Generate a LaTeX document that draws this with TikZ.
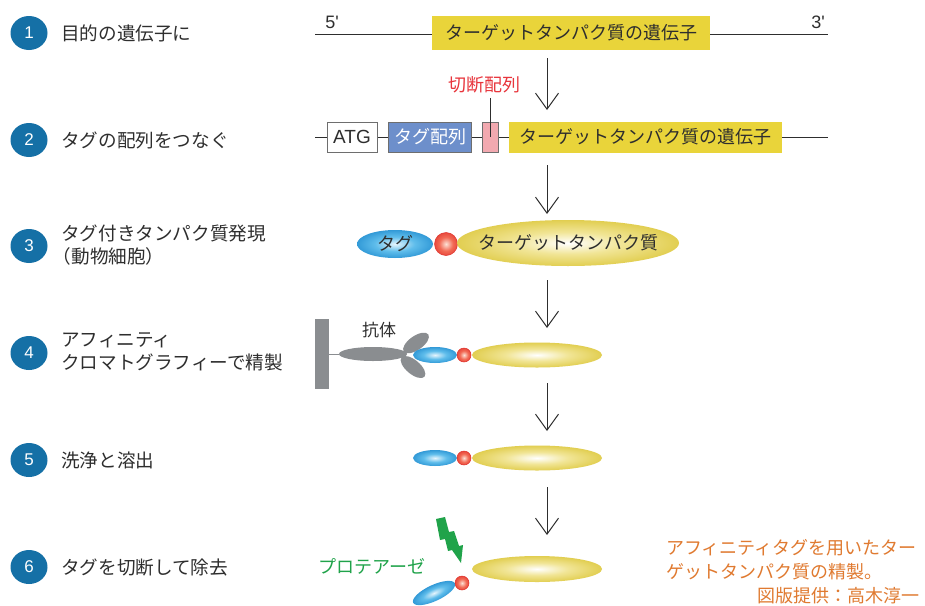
\documentclass[tikz,border=0pt]{standalone}
\usepackage{fontspec}
\setmainfont{Noto Sans CJK JP}
\newfontfamily\latinfont{Liberation Sans}
\usetikzlibrary{arrows.meta,shapes.geometric}

\definecolor{numblue}{HTML}{1570A6}
\definecolor{txt}{HTML}{2E2E2E}
\definecolor{geneyellow}{HTML}{E9D43A}
\definecolor{tagbox}{HTML}{6D8FCB}
\definecolor{cutpink}{HTML}{F2A9B0}
\definecolor{cutred}{HTML}{E8353C}
\definecolor{protgreen}{HTML}{20A34A}
\definecolor{capor}{HTML}{E07A30}
\definecolor{abgrey}{HTML}{8A8D90}
\definecolor{boxedge}{HTML}{6E6E6E}
\definecolor{ylmid}{HTML}{F1E596}
\definecolor{yledge}{HTML}{D9C22C}
\definecolor{blcen}{HTML}{E6F5FD}
\definecolor{blmid}{HTML}{5FBDEB}
\definecolor{bledge}{HTML}{1583CA}
\definecolor{rdcen}{HTML}{FCE2D6}
\definecolor{rdmid}{HTML}{F26A55}
\definecolor{rdedge}{HTML}{E0302A}

% radial glows; the outer ring lies on the outline of the filled shape
\pgfdeclareradialshading{yellowglow}{\pgfpoint{0bp}{0bp}}{color(0bp)=(white); color(12bp)=(ylmid); color(32bp)=(yledge); color(50bp)=(yledge)}
\pgfdeclareradialshading{blueglow}{\pgfpoint{0bp}{0bp}}{color(0bp)=(blcen); color(13bp)=(blmid); color(33bp)=(bledge); color(50bp)=(bledge)}
\pgfdeclareradialshading{redglow}{\pgfpoint{0bp}{0bp}}{color(0bp)=(rdcen); color(15bp)=(rdmid); color(33bp)=(rdedge); color(50bp)=(rdedge)}

\tikzset{
  numc/.style={ellipse, fill=numblue, minimum width=37, minimum height=34, inner sep=0,
    text=white, font=\latinfont\fontsize{17}{17}\selectfont},
  lbl/.style={anchor=west, text=txt, align=left, inner sep=0, font=\fontsize{18.6}{22.5}\selectfont},
  dna/.style={draw=txt, line width=0.9},
  seqbox/.style={draw=boxedge, line width=0.8, inner sep=0, text=txt, font=\fontsize{18}{18}\selectfont},
  genebox/.style={fill=geneyellow, inner sep=0, text=txt, font=\fontsize{18}{18}\selectfont},
  flow/.style={draw=txt, line width=1, -{Straight Barb[length=16pt,width=23pt,line width=1pt]}},
  yelp/.style={ellipse, shade, shading=yellowglow, inner sep=0},
  bluep/.style={ellipse, shade, shading=blueglow, inner sep=0},
  redb/.style={circle, shade, shading=redglow, draw=rdedge, line width=0.5, inner sep=0},
  ptext/.style={text=txt, inner sep=0, font=\fontsize{18}{18}\selectfont},
  grey/.style={fill=abgrey},
  caption/.style={text=capor, inner sep=0, font=\fontsize{18}{18}\selectfont},
}

\begin{document}
\begin{tikzpicture}[x=1pt,y=-1pt]
\useasboundingbox (0,0) rectangle (925,605);
\fill[white] (0,0) rectangle (925,605);

% numbered steps on the left
\node[numc] (n1) at (29,33) {1};
\node[numc] (n2) at (29,140) {2};
\node[numc] (n3) at (29,246) {3};
\node[numc] (n4) at (29,353) {4};
\node[numc] (n5) at (29,460) {5};
\node[numc] (n6) at (29,567) {6};

\node[lbl] (l1) at (61,33) {目的の遺伝子に};
\node[lbl] (l2) at (61,140) {タグの配列をつなぐ};
\node[lbl] (l3) at (61,245) {タグ付きタンパク質発現\\\kern-0.45em（動物細胞）};
\node[lbl] (l4) at (61,352) {アフィニティ\\クロマトグラフィーで精製};
\node[lbl] (l5) at (61,460) {洗浄と溶出};
\node[lbl] (l6) at (61,567) {タグを切断して除去};

% step 1: the target gene
\coordinate (g1l) at (315,34);
\coordinate (g1r) at (828,34);
\draw[dna] (g1l) -- (g1r);
\node[genebox, minimum width=278, minimum height=34] (gene1) at (571,33) {ターゲットタンパク質の遺伝子};
\node[text=txt, inner sep=0, font=\latinfont\fontsize{18}{18}\selectfont] (p5) at (332,22) {5'};
\node[text=txt, inner sep=0, font=\latinfont\fontsize{18}{18}\selectfont] (p3) at (818,22) {3'};

% step 2: construct with tag and cleavage site
\coordinate (g2l) at (315,137);
\coordinate (g2r) at (828,137);
\draw[dna] (g2l) -- (g2r);
\node[seqbox, fill=white, minimum width=50, minimum height=30, font=\latinfont\fontsize{19}{19}\selectfont] (atg) at (352,137) {ATG};
\node[seqbox, fill=tagbox, text=white, minimum width=83, minimum height=30] (tagseq) at (430,137) {タグ配列};
\node[seqbox, fill=cutpink, minimum width=16, minimum height=30] (cut) at (490,137) {};
\node[genebox, minimum width=273, minimum height=31] (gene2) at (645,137) {ターゲットタンパク質の遺伝子};
\node[text=cutred, inner sep=0, font=\fontsize{18}{18}\selectfont] (cutlbl) at (484,85) {切断配列};
\coordinate (cuttop) at (490,98);
\draw[draw=txt, line width=0.8] (cuttop) -- (cut.center);

% step 3: expressed tagged protein
\node[bluep, minimum width=76, minimum height=28] (tag3) at (395,244) {};
\node[redb, minimum size=23] (link3) at (446,244) {};
\node[yelp, minimum width=222, minimum height=46] (tgt3) at (568,243) {};
\node[ptext] (tag3t) at (tag3) {タグ};
\node[ptext] (tgt3t) at (tgt3) {ターゲットタンパク質};

% step 4: captured by antibody on the column
\node[grey, minimum width=14, minimum height=70, inner sep=0] (col) at (322,354) {};
\node[ellipse, grey, minimum width=68, minimum height=14, inner sep=0] (stem) at (373,354) {};
\draw[abgrey, line width=0.8] (col.east) -- (stem.west);
\fill[abgrey, rotate around={35:(416,343)}] (416,343) ellipse [x radius=15, y radius=7];
\fill[abgrey, rotate around={-40:(413,367)}] (413,367) ellipse [x radius=15, y radius=7];
\node[ptext, font=\fontsize{17}{17}\selectfont] (ab) at (379,330) {抗体};
\node[bluep, minimum width=44, minimum height=16] (tag4) at (435,355) {};
\node[redb, minimum size=14] (link4) at (464,355) {};
\node[yelp, minimum width=130, minimum height=25] (tgt4) at (537,355) {};

% step 5: wash and elute
\node[bluep, minimum width=44, minimum height=16] (tag5) at (435,458) {};
\node[redb, minimum size=14] (link5) at (464,458) {};
\node[yelp, minimum width=130, minimum height=25] (tgt5) at (537,458) {};

% step 6: protease cleavage
\node[yelp, minimum width=130, minimum height=26] (tgt6) at (537,569) {};
\begin{scope}[transform canvas={shift={(434,593)}, rotate=25}]
  \node[bluep, minimum width=46, minimum height=16] (tag6) at (0,0) {};
\end{scope}
\node[redb, minimum size=14] (link6) at (462,583) {};
\fill[protgreen] (436,519) -- (445,517) -- (449,532) -- (454,531) -- (459,546) -- (463,545)
  -- (461,563) -- (452,550) -- (448,551) -- (445,539) -- (440,540) -- cycle;
\node[text=protgreen, inner sep=0, font=\fontsize{18}{18}\selectfont] (prot) at (372,566) {プロテアーゼ};

% flow arrows between the steps
\coordinate (a1s) at (547,58);  \coordinate (a1e) at (547,110);
\coordinate (a2s) at (547,165); \coordinate (a2e) at (547,214);
\coordinate (a3s) at (547,280); \coordinate (a3e) at (547,328);
\coordinate (a4s) at (547,383); \coordinate (a4e) at (547,431);
\coordinate (a5s) at (547,487); \coordinate (a5e) at (547,535);
\draw[flow] (a1s) -- (a1e);
\draw[flow] (a2s) -- (a2e);
\draw[flow] (a3s) -- (a3e);
\draw[flow] (a4s) -- (a4e);
\draw[flow] (a5s) -- (a5e);

% caption
\node[caption, anchor=west] (c1) at (666,548) {アフィニティタグを用いたター};
\node[caption, anchor=west] (c2) at (666,572) {ゲットタンパク質の精製。};
\node[caption, anchor=east] (c3) at (920,596) {図版提供：高木淳一};
\end{tikzpicture}
\end{document}
